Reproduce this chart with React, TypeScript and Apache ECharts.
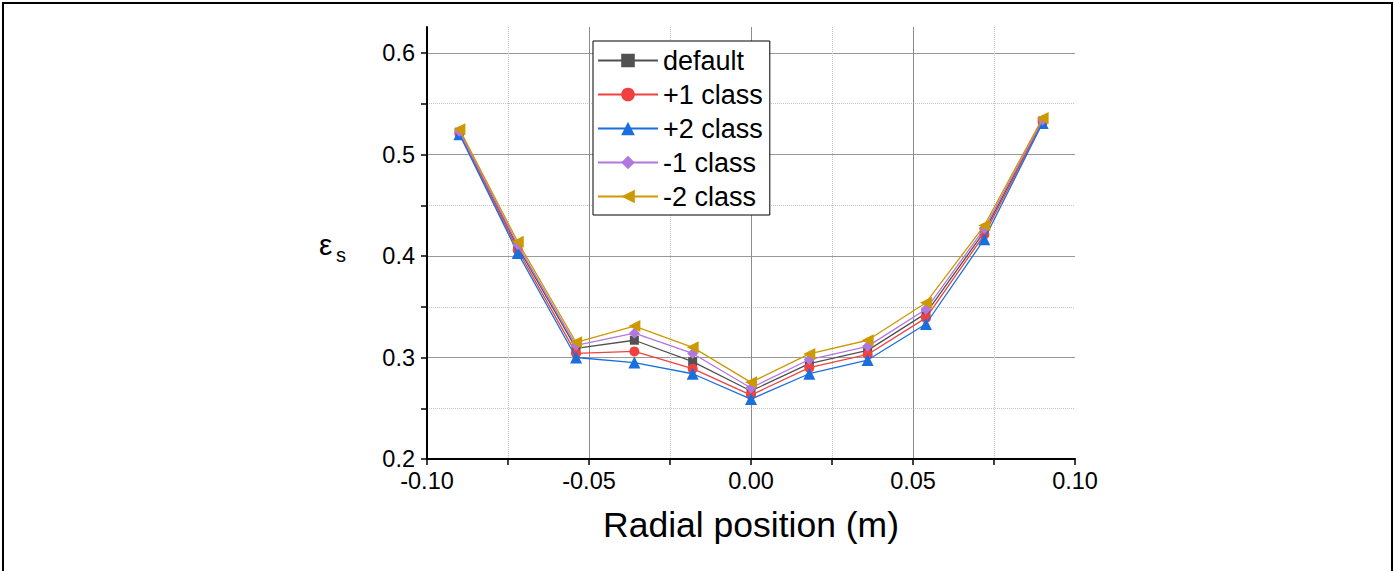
import { useEffect, useRef } from "react";
import * as echarts from "echarts";

const radial = [-0.09, -0.072, -0.054, -0.036, -0.018, 0, 0.018, 0.036, 0.054, 0.072, 0.09];
const defaultVals = [0.522, 0.409, 0.309, 0.317, 0.296, 0.267, 0.294, 0.307, 0.3435, 0.424, 0.533];
const plus1Vals = [0.521, 0.406, 0.304, 0.306, 0.289, 0.263, 0.29, 0.303, 0.339, 0.421, 0.532];
const plus2Vals = [0.52, 0.403, 0.3, 0.295, 0.284, 0.259, 0.284, 0.2975, 0.333, 0.4165, 0.531];
const minus1Vals = [0.523, 0.411, 0.312, 0.324, 0.304, 0.27, 0.298, 0.311, 0.3475, 0.427, 0.534];
const minus2Vals = [0.525, 0.414, 0.315, 0.331, 0.31, 0.2755, 0.3035, 0.317, 0.354, 0.43, 0.536];

const seriesNames = ["default", "+1 class", "+2 class", "-1 class", "-2 class"];
const xTicks = { min: -0.1, max: 0.1, interval: 0.05 };
const yTicks = { min: 0.2, max: 0.6, interval: 0.1 };

const FONT = "'Liberation Sans', Arial, Helvetica, sans-serif";

export default function App() {
  const ref = useRef<HTMLDivElement>(null);
  useEffect(() => {
    const chart = echarts.init(ref.current!, null, { renderer: "svg" });
    const pairs = (vals: number[]) => radial.map((x, i) => [x, vals[i]]);
    const styles = [
      { color: "#515151", symbol: "rect", size: 9, rotate: 0 },
      { color: "#F14040", symbol: "circle", size: 10, rotate: 0 },
      { color: "#1A6FDF", symbol: "triangle", size: 12, rotate: 0 },
      { color: "#B177DE", symbol: "diamond", size: 11, rotate: 0 },
      { color: "#CC9900", symbol: "triangle", size: 12, rotate: 90 },
    ];
    const valueSets = [defaultVals, plus1Vals, plus2Vals, minus1Vals, minus2Vals];
    const series = seriesNames.map((name, i) => ({
      name,
      type: "line",
      xAxisIndex: 0,
      yAxisIndex: 0,
      data: pairs(valueSets[i]),
      symbol: styles[i].symbol,
      symbolSize: styles[i].size,
      symbolRotate: styles[i].rotate,
      showAllSymbol: true,
      lineStyle: { color: styles[i].color, width: 1.3 },
      itemStyle: { color: styles[i].color },
      z: 3 + i,
    }));
    const tickStyle = { color: "#000", width: 1.5 };
    chart.setOption({
      animation: false,
      backgroundColor: "#fff",
      grid: [
        { left: 427, right: 319, top: 53, bottom: 112 },
        { left: 427, right: 319, top: 27, bottom: 112 },
      ],
      xAxis: [
        {
          gridIndex: 0,
          type: "value",
          ...xTicks,
          axisLine: { show: true, onZero: false, lineStyle: { color: "#000", width: 2 } },
          axisTick: { show: true, length: 6, lineStyle: tickStyle },
          minorTick: { show: true, splitNumber: 2, length: 6, lineStyle: tickStyle },
          axisLabel: {
            fontSize: 23.5,
            color: "#000",
            margin: 10,
            fontFamily: FONT,
            formatter: (v: number) => v.toFixed(2),
          },
          splitLine: { show: false },
          name: "Radial position (m)",
          nameLocation: "middle",
          nameGap: 48,
          nameTextStyle: { fontSize: 35.5, color: "#000", fontFamily: FONT },
        },
        {
          gridIndex: 1,
          type: "value",
          ...xTicks,
          axisLine: { show: false, onZero: false },
          axisTick: { show: false },
          axisLabel: { show: false },
          minorTick: { show: false, splitNumber: 2 },
          splitLine: {
            show: true,
            showMinLine: false,
            showMaxLine: false,
            lineStyle: { color: "#8c8c8c", width: 1 },
          },
          minorSplitLine: { show: true, lineStyle: { color: "#c4c4c4", width: 1, type: "dotted" } },
        },
      ],
      yAxis: [
        {
          gridIndex: 0,
          type: "value",
          ...yTicks,
          axisLine: { show: false, onZero: false },
          axisTick: { show: true, length: 6, lineStyle: tickStyle },
          minorTick: { show: true, splitNumber: 2, length: 6, lineStyle: tickStyle },
          axisLabel: {
            fontSize: 23.5,
            color: "#000",
            margin: 12,
            fontFamily: FONT,
            formatter: (v: number) => v.toFixed(1),
          },
          splitLine: {
            show: true,
            showMinLine: false,
            lineStyle: { color: "#999", width: 1.2 },
          },
          minorSplitLine: { show: true, lineStyle: { color: "#c4c4c4", width: 1, type: "dotted" } },
        },
        {
          gridIndex: 1,
          type: "value",
          min: 0,
          max: 1,
          axisLine: { show: true, onZero: false, lineStyle: { color: "#000", width: 2 } },
          axisTick: { show: false },
          axisLabel: { show: false },
          splitLine: { show: false },
        },
      ],
      legend: {
        left: 593,
        top: 41,
        orient: "vertical",
        borderColor: "#000",
        borderWidth: 1,
        borderRadius: 0,
        backgroundColor: "#fff",
        padding: [6, 7, 5, 4],
        itemWidth: 60,
        itemHeight: 17,
        itemGap: 7,
        textStyle: { fontSize: 27, lineHeight: 25, color: "#000", fontFamily: FONT },
        data: seriesNames,
      },
      graphic: [
        {
          type: "rect",
          z: 0,
          shape: { x: 3, y: 3, width: 1389, height: 620 },
          style: { fill: "none", stroke: "#000", lineWidth: 2 },
        },
        {
          type: "text",
          left: 319,
          top: 229,
          style: { text: "ε", fontSize: 30, fill: "#000", fontFamily: FONT },
        },
        {
          type: "text",
          left: 336,
          top: 245,
          style: { text: "s", fontSize: 20, fill: "#000", fontFamily: FONT },
        },
      ],
      series,
    });
    return () => chart.dispose();
  }, []);
  return (
    <div
      ref={ref}
      style={{ position: "absolute", left: 0, top: 0, width: 1394, height: 571, background: "#fff" }}
    />
  );
}
